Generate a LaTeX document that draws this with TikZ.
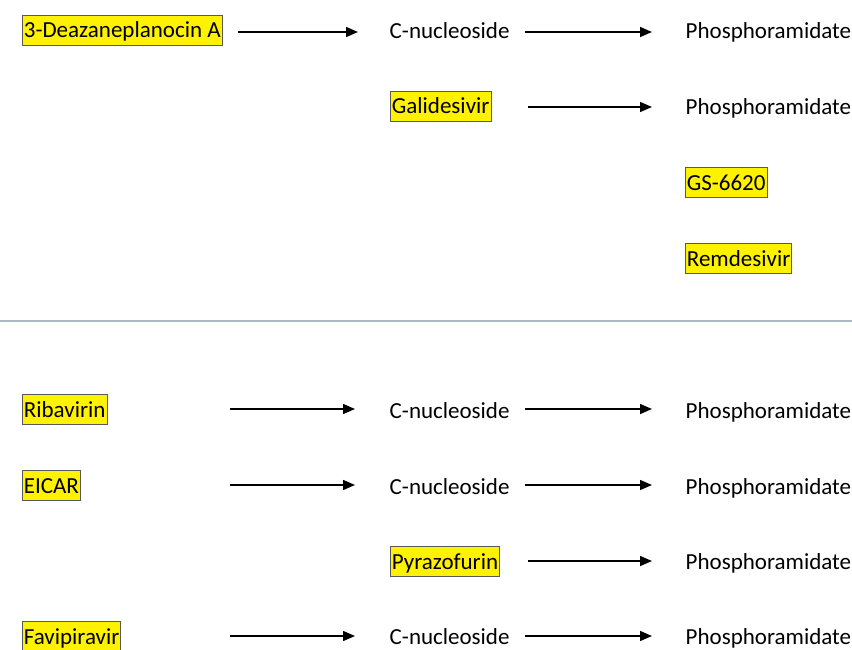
\documentclass[tikz,border=0pt]{standalone}
\usepackage{fontspec}
\setmainfont{Carlito}
\usetikzlibrary{arrows.meta}
\begin{document}
\begin{tikzpicture}[x=1pt,y=-1pt,
  lbl/.style={anchor=west,font=\fontsize{23}{25}\selectfont,inner xsep=1.5pt,inner ysep=3pt,
    text height=20pt,text depth=4pt},
  hl/.style={lbl,fill=yellow,draw=black!65,line width=0.8pt},
  arr/.style={-{Triangle[length=12pt,width=10pt]},line width=1.4pt}]
\useasboundingbox (0,0) rectangle (852,650);
% row 1
\node[hl] (d3) at (22,30) {3-Deazaneplanocin A};
\node[lbl] (c1) at (388,31) {C-nucleoside};
\node[lbl] (p1) at (684,31) {Phosphoramidate};
\coordinate (a1s) at (238,32); \coordinate (a1e) at (358,32);
\coordinate (b1s) at (525,32); \coordinate (b1e) at (652,32);
\draw[arr] (a1s) -- (a1e);
\draw[arr] (b1s) -- (b1e);
% row 2
\node[hl] (gal) at (390,106) {Galidesivir};
\node[lbl] (p2) at (684,107) {Phosphoramidate};
\coordinate (b2s) at (528,107); \coordinate (b2e) at (652,107);
\draw[arr] (b2s) -- (b2e);
% rows 3-4
\node[hl] (gs) at (685,182) {GS-6620};
\node[hl] (rem) at (685,258) {Remdesivir};
% separator
\coordinate (l1) at (0,321); \coordinate (l2) at (852,321);
\draw[color={rgb,255:red,170;green,185;blue,195},line width=1.2pt] (l1) -- (l2);
% row 5
\node[hl] (rib) at (22,409) {Ribavirin};
\node[lbl] (c5) at (388,410) {C-nucleoside};
\node[lbl] (p5) at (684,410) {Phosphoramidate};
\coordinate (a5s) at (230,409); \coordinate (a5e) at (355,409);
\coordinate (b5s) at (525,409); \coordinate (b5e) at (652,409);
\draw[arr] (a5s) -- (a5e);
\draw[arr] (b5s) -- (b5e);
% row 6
\node[hl] (eic) at (22,485) {EICAR};
\node[lbl] (c6) at (388,486) {C-nucleoside};
\node[lbl] (p6) at (684,486) {Phosphoramidate};
\coordinate (a6s) at (230,485); \coordinate (a6e) at (355,485);
\coordinate (b6s) at (525,485); \coordinate (b6e) at (652,485);
\draw[arr] (a6s) -- (a6e);
\draw[arr] (b6s) -- (b6e);
% row 7
\node[hl] (pyr) at (390,561) {Pyrazofurin};
\node[lbl] (p7) at (684,561) {Phosphoramidate};
\coordinate (b7s) at (528,561); \coordinate (b7e) at (652,561);
\draw[arr] (b7s) -- (b7e);
% row 8
\node[hl] (fav) at (22,636) {Favipiravir};
\node[lbl] (c8) at (388,636) {C-nucleoside};
\node[lbl] (p8) at (684,636) {Phosphoramidate};
\coordinate (a8s) at (230,636); \coordinate (a8e) at (355,636);
\coordinate (b8s) at (525,636); \coordinate (b8e) at (652,636);
\draw[arr] (a8s) -- (a8e);
\draw[arr] (b8s) -- (b8e);
\end{tikzpicture}
\end{document}
